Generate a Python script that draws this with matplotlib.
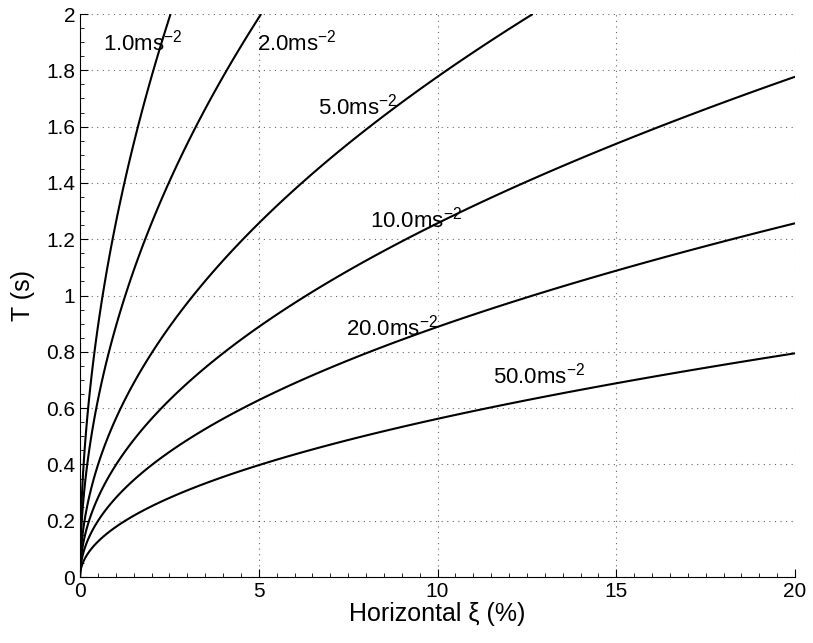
import numpy as np
import matplotlib
matplotlib.use("Agg")
import matplotlib.pyplot as plt
from matplotlib.ticker import MultipleLocator, AutoMinorLocator, FuncFormatter

plt.rcParams['font.family'] = ['Liberation Sans', 'DejaVu Sans']
plt.rcParams['mathtext.fontset'] = 'custom'
plt.rcParams['mathtext.rm'] = 'Liberation Sans'

# acceleration levels (m/s^2) and where each label sits (xi %, T s)
accels = [1.0, 2.0, 5.0, 10.0, 20.0, 50.0]
label_xi = [0.64, 4.95, 6.66, 8.11, 7.44, 11.55]
label_T = [1.90, 1.90, 1.67, 1.27, 0.885, 0.714]

# grid of horizontal strain vs period, acceleration a = (2*pi/5)^2 * xi / T^2
xi = np.linspace(0, 20, 801)
T = np.linspace(0.001, 2, 801)
XI, TT = np.meshgrid(xi, T)
A = (2 * np.pi / 5) ** 2 * XI / TT ** 2

fig = plt.figure(figsize=(8.13, 6.43), dpi=100)
ax = fig.add_axes([0.0984, 0.1026, 0.8795, 0.8756])

ax.contour(XI, TT, A, levels=accels, colors='k', linewidths=1.5)

for a, x, y in zip(accels, label_xi, label_T):
    ax.text(x, y, r'%.1fms$^{-2}$' % a, fontsize=16, ha='left', va='center')

ax.set_xlim(0, 20)
ax.set_ylim(0, 2)
ax.xaxis.set_major_locator(MultipleLocator(5))
ax.yaxis.set_major_locator(MultipleLocator(0.2))
ax.xaxis.set_minor_locator(AutoMinorLocator(10))
ax.yaxis.set_minor_locator(AutoMinorLocator(4))
fmt = FuncFormatter(lambda v, p: '%g' % round(v, 2))
ax.xaxis.set_major_formatter(fmt)
ax.yaxis.set_major_formatter(fmt)

ax.grid(True, which='major', linestyle=(0, (1, 4)), color='k', linewidth=0.8, alpha=0.6)
ax.tick_params(which='both', direction='in', top=False, right=False, labelsize=15)
ax.tick_params(which='major', length=6)
ax.tick_params(which='minor', length=3)
for s in ['top', 'right']:
    ax.spines[s].set_visible(False)

ax.set_xlabel('Horizontal ξ (%)', fontsize=18, labelpad=1)
ax.set_ylabel('T (s)', fontsize=18, labelpad=8)

fig.savefig('out.png', dpi=100)
